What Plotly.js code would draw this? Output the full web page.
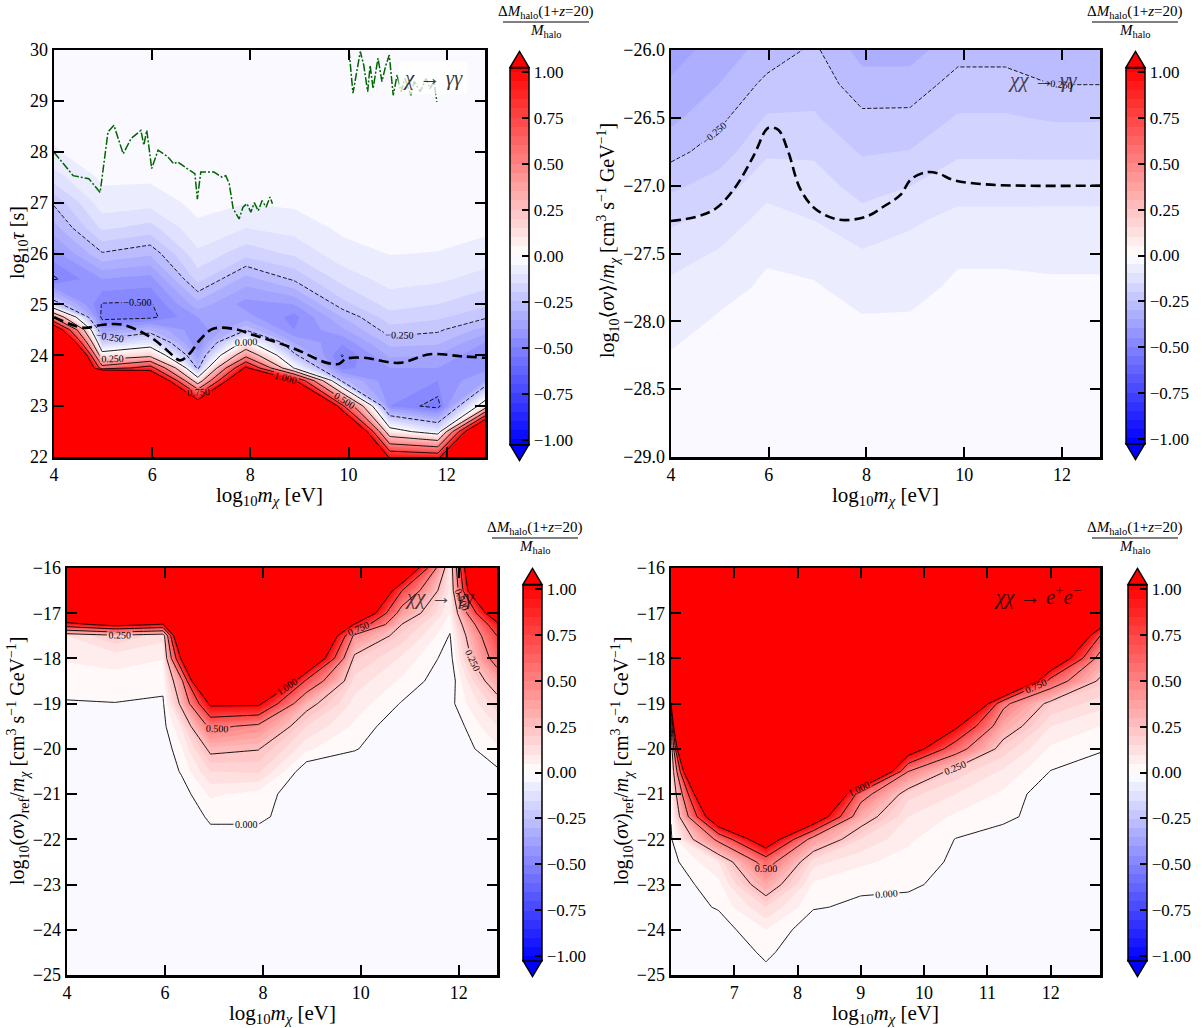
<!DOCTYPE html>
<html><head><meta charset="utf-8">
<script src="https://cdn.plot.ly/plotly-3.0.1.min.js"></script>
<style>body{margin:0;background:#fff}#chart{width:1202px;height:1028px}</style>
</head><body><div id="chart"></div>
<script>
// ---------------- DATA ----------------
// Panel 1: chi -> gamma gamma decay, x = log10 m [eV], y = log10 tau [s]
const p1_x = [4, 4.98, 5.96, 6.93, 7.91, 8.89, 9.87, 10.84, 11.82, 12.78];
const p1_y = [22, 22.5, 23, 23.5, 23.75, 24, 24.25, 24.5, 24.75, 25, 25.5, 26, 26.5, 27, 27.5, 28, 29, 30];
const p1_z = [
 [3, 3, 3, 3, 3, 3, 3, 0.95, 0.9, 3],
 [3, 3, 3, 3, 3, 3, 2.0, 0.08, -0.1, 1.8],
 [3, 3, 3, 1.3, 3, 3, 0.8, -0.45, -0.53, 0.1],
 [3, 3, 1.6, 0.1, 1.6, 1.05, -0.28, -0.44, -0.45, -0.35],
 [3, 0.6, 0.85, -0.28, 1.05, -0.01, -0.47, -0.4, -0.4, -0.42],
 [3, 0.08, 0.18, -0.38, 0.42, -0.23, -0.505, -0.34, -0.35, -0.45],
 [2.0, -0.2, -0.1, -0.45, 0.05, -0.35, -0.44, -0.28, -0.29, -0.4],
 [1.3, -0.38, -0.3, -0.44, -0.26, -0.45, -0.36, -0.22, -0.24, -0.32],
 [0.45, -0.53, -0.52, -0.4, -0.38, -0.47, -0.3, -0.17, -0.19, -0.24],
 [-0.2, -0.505, -0.51, -0.32, -0.42, -0.4, -0.22, -0.13, -0.15, -0.19],
 [-0.51, -0.4, -0.42, -0.18, -0.32, -0.24, -0.13, -0.08, -0.09, -0.12],
 [-0.42, -0.255, -0.29, -0.11, -0.18, -0.14, -0.07, -0.048, -0.052, -0.07],
 [-0.32, -0.14, -0.17, -0.06, -0.1, -0.08, -0.04, -0.03, -0.03, -0.04],
 [-0.24, -0.07, -0.08, -0.035, -0.048, -0.04, -0.025, -0.02, -0.02, -0.02],
 [-0.12, -0.04, -0.04, -0.02, -0.03, -0.02, -0.015, -0.01, -0.01, -0.01],
 [-0.055, -0.02, -0.02, -0.01, -0.015, -0.015, -0.01, -0.01, -0.01, -0.01],
 [-0.02, -0.01, -0.01, -0.01, -0.01, -0.01, -0.005, -0.005, -0.005, -0.005],
 [-0.01, -0.01, -0.01, -0.005, -0.005, -0.005, -0.005, -0.005, -0.005, -0.005]
];
const p1_bound_x = [4, 4.6, 5.0, 5.4, 5.96, 6.3, 6.57, 6.77, 6.97, 7.24, 7.65, 8.06, 8.87, 9.56, 9.8, 9.95, 10.32, 11.03, 11.66, 12.29, 12.78];
const p1_bound_y = [24.75, 24.54, 24.6, 24.6, 24.36, 24.1, 23.9, 24.04, 24.3, 24.52, 24.52, 24.4, 24.14, 23.85, 23.83, 23.93, 23.95, 23.85, 24.02, 23.98, 23.95];
const p1_limA_x = [4, 4.39, 4.71, 4.94, 5.1, 5.22, 5.41, 5.57, 5.77, 5.83, 5.89, 5.99, 6.12, 6.32, 6.44, 6.52, 6.71, 6.87, 6.92, 6.99, 7.26, 7.42, 7.5, 7.57, 7.65, 7.77, 7.85, 7.93, 8.01, 8.08, 8.16, 8.24, 8.32, 8.4, 8.45];
const p1_limA_y = [27.99, 27.53, 27.47, 27.2, 28.39, 28.52, 27.96, 28.26, 28.42, 28.13, 28.42, 27.67, 28.03, 27.9, 27.76, 27.8, 27.67, 27.57, 27.07, 27.6, 27.6, 27.5, 27.53, 27.37, 26.88, 26.68, 26.91, 26.98, 26.81, 27.0, 26.84, 27.04, 26.91, 27.11, 26.98];
const p1_limB_x = [10.01, 10.09, 10.24, 10.31, 10.39, 10.44, 10.5, 10.6, 10.68, 10.76, 10.83, 10.91, 10.99, 11.07, 11.15, 11.27, 11.34, 11.46, 11.58, 11.66, 11.74, 11.8];
const p1_limB_y = [30.0, 29.15, 29.97, 29.7, 29.18, 29.7, 29.24, 29.84, 29.38, 29.7, 29.9, 29.11, 29.51, 29.18, 29.44, 29.11, 29.38, 29.18, 29.44, 29.24, 29.38, 28.98];

// Panel 2: chi chi -> gamma gamma, y = log10 <sigma v>/m
const p2_x = [4, 4.98, 5.96, 6.93, 7.91, 8.89, 9.87, 10.84, 11.82, 12.78];
const p2_y = [-29, -28.5, -28.25, -28, -27.75, -27.5, -27.25, -27, -26.75, -26.5, -26.25, -26];
const p2_z = [
 [-0.01, -0.01, -0.01, -0.01, -0.01, -0.01, -0.01, -0.01, -0.01, -0.01],
 [-0.035, -0.027, -0.0237, -0.0244, -0.0279, -0.0279, -0.0237, -0.0237, -0.024, -0.024],
 [-0.047, -0.036, -0.0305, -0.0316, -0.0368, -0.0368, -0.0305, -0.0305, -0.031, -0.031],
 [-0.067, -0.045, -0.037, -0.0388, -0.0457, -0.0457, -0.037, -0.037, -0.038, -0.038],
 [-0.089, -0.063, -0.044, -0.046, -0.0655, -0.061, -0.044, -0.044, -0.045, -0.045],
 [-0.12, -0.095, -0.0545, -0.065, -0.095, -0.083, -0.055, -0.055, -0.058, -0.058],
 [-0.16, -0.132, -0.083, -0.101, -0.132, -0.108, -0.087, -0.087, -0.087, -0.087],
 [-0.211, -0.178, -0.117, -0.128, -0.169, -0.151, -0.121, -0.121, -0.12, -0.12],
 [-0.267, -0.225, -0.158, -0.158, -0.205, -0.198, -0.158, -0.158, -0.159, -0.159],
 [-0.3125, -0.264, -0.195, -0.195, -0.239, -0.2375, -0.195, -0.195, -0.2056, -0.2056],
 [-0.344, -0.3, -0.237, -0.219, -0.279, -0.279, -0.23, -0.23, -0.251, -0.251],
 [-0.37, -0.33, -0.28, -0.24, -0.32, -0.32, -0.27, -0.27, -0.275, -0.275]
];
const p2_bound_x = [4, 4.51, 4.91, 5.3, 5.69, 5.94, 6.02, 6.2, 6.4, 6.64, 6.95, 7.43, 7.98, 8.37, 8.69, 8.92, 9.24, 9.47, 9.79, 10.42, 11.2, 12.78];
const p2_bound_y = [-27.26, -27.23, -27.17, -27.02, -26.78, -26.59, -26.57, -26.59, -26.75, -27.02, -27.17, -27.25, -27.23, -27.15, -27.07, -26.95, -26.9, -26.91, -26.96, -26.99, -27.0, -27.0];

// Panel 3: chi chi -> gamma gamma, y = log10 (sigma v)_ref / m
const p3_x = [4, 4.98, 5.96, 6.33, 6.93, 7.91, 8.89, 9.87, 10.84, 11.82, 12.78];
const p3_y = [-25, -22, -21.75, -21.5, -21, -20.5, -20, -19.5, -19, -18.5, -18, -17.5, -17.25, -17, -16.5, -16];
const p3_z = [
 [-0.01, -0.01, -0.01, -0.01, -0.01, -0.01, -0.01, -0.01, -0.01, -0.01, -0.01],
 [-0.01, -0.01, -0.01, -0.01, -0.01, -0.01, -0.01, -0.01, -0.01, -0.01, -0.01],
 [-0.01, -0.01, -0.01, -0.02, -0.005, -0.005, -0.02, -0.01, -0.01, -0.01, -0.01],
 [-0.01, -0.01, -0.01, -0.04, 0.01, 0.01, -0.03, -0.01, -0.01, -0.01, -0.01],
 [-0.01, -0.01, -0.01, -0.03, 0.06, 0.03, -0.045, -0.01, -0.01, -0.01, -0.01],
 [-0.01, -0.01, -0.04, 0.005, 0.15, 0.16, -0.045, -0.01, -0.01, -0.01, -0.01],
 [-0.01, -0.01, -0.04, 0.04, 0.28, 0.255, 0.06, 0.001, -0.01, -0.045, 0.04],
 [-0.01, -0.01, -0.02, 0.1, 0.55, 0.45, 0.15, 0.04, -0.045, -0.045, 0.1],
 [-0.005, -0.002, -0.01, 0.28, 1.05, 1.05, 0.3, 0.08, -0.005, -0.02, 0.18],
 [0.025, 0.035, 0.02, 0.42, 2, 2, 0.7, 0.13, 0.04, -0.045, 0.35],
 [0.055, 0.065, 0.052, 1.02, 2, 2, 1.5, 0.21, 0.09, -0.03, 0.6],
 [0.1, 0.2, 0.12, 1.6, 2, 2, 2, 0.45, 0.18, -0.005, 0.75],
 [0.9, 1.1, 0.98, 2, 2, 2, 2, 0.98, 0.245, 0.02, 0.92],
 [1.5, 1.6, 1.6, 2, 2, 2, 2, 1.5, 0.38, 0.05, 1.3],
 [2, 2, 2, 2, 2, 2, 2, 2, 0.75, 0.08, 2.5],
 [2, 2, 2, 2, 2, 2, 2, 2, 1.5, 0.1, 3]
];

// Panel 4: chi chi -> e+ e-
const p4_x = [6.0, 6.75, 7.5, 8.25, 9.0, 9.75, 10.5, 11.25, 12.0, 12.78];
const p4_y = [-25, -24.75, -24.5, -24, -23.5, -23, -22.5, -22, -21.5, -21, -20.5, -20, -19.5, -19, -18.5, -18, -17.5, -17, -16];
const p4_z = [
 [-0.01, -0.01, -0.01, -0.01, -0.01, -0.01, -0.01, -0.01, -0.01, -0.01],
 [-0.01, -0.02, -0.002, -0.02, -0.01, -0.01, -0.01, -0.01, -0.01, -0.01],
 [-0.01, -0.04, 0.01, -0.04, -0.01, -0.01, -0.01, -0.01, -0.01, -0.01],
 [-0.02, -0.03, 0.05, -0.04, -0.01, -0.01, -0.01, -0.01, -0.01, -0.01],
 [-0.03, 0.005, 0.15, 0.005, -0.01, -0.01, -0.01, -0.01, -0.01, -0.01],
 [-0.03, 0.03, 0.35, 0.04, 0.01, 0.005, -0.01, -0.01, -0.01, -0.01],
 [-0.02, 0.1, 0.6, 0.12, 0.06, 0.03, -0.01, -0.01, -0.01, -0.01],
 [-0.01, 0.55, 1.25, 0.4, 0.15, 0.06, -0.002, -0.01, -0.01, -0.01],
 [0.005, 1.36, 2, 1.3, 0.33, 0.1, 0.04, 0.005, -0.01, -0.01],
 [0.035, 2, 2, 2, 0.6, 0.17, 0.1, 0.04, -0.04, -0.01],
 [0.06, 3.6, 2, 2, 2, 0.5, 0.18, 0.09, -0.002, -0.01],
 [0.1, 7, 2, 2, 2, 1.2, 0.6, 0.18, 0.04, 0.002],
 [0.18, 15, 2, 2, 2, 2, 1.05, 0.35, 0.1, 0.05],
 [1.02, 15, 2, 2, 2, 2, 2, 0.55, 0.2, 0.12],
 [2, 15, 2, 2, 2, 2, 2, 2, 0.65, 0.22],
 [2, 15, 2, 2, 2, 2, 2, 2, 1.4, 0.4],
 [2, 15, 2, 2, 2, 2, 2, 2, 2, 0.75],
 [2, 15, 2, 2, 2, 2, 2, 2, 2, 1.5],
 [2, 15, 2, 2, 2, 2, 2, 2, 2, 2]
];

// tick labels
const cbar_ticks = [-1, -0.75, -0.5, -0.25, 0, 0.25, 0.5, 0.75, 1];
const cbar_text = ['−1.00', '−0.75', '−0.50', '−0.25', '0.00', '0.25', '0.50', '0.75', '1.00'];
const p1_yticks = [22, 23, 24, 25, 26, 27, 28, 29, 30];
const p2_yticks = [-29, -28.5, -28, -27.5, -27, -26.5, -26];
const p2_ytext = ['−29.0', '−28.5', '−28.0', '−27.5', '−27.0', '−26.5', '−26.0'];
const p34_yticks = [-25, -24, -23, -22, -21, -20, -19, -18, -17, -16];
const p34_ytext = ['−25', '−24', '−23', '−22', '−21', '−20', '−19', '−18', '−17', '−16'];
const p123_xticks = [4, 6, 8, 10, 12];
const p4_xticks = [7, 8, 9, 10, 11, 12];

// ---------------- LAYOUT HELPERS ----------------
const W = 1202, H = 1028;
const X = v => v / W, Y = v => 1 - v / H;
const FONT = 'Liberation Serif, DejaVu Serif, serif';
const bwr = [[0, 'rgb(0,0,255)'], [0.5, 'rgb(255,255,255)'], [1, 'rgb(255,0,0)']];

const boxes = [
  {l: 54, r: 485, t: 50, b: 457, cbx: 510, cbt: 72, cbb: 440, fx: 546, fy: 12, yty: 243, ytx: 18},
  {l: 671, r: 1100, t: 50, b: 457, cbx: 1126, cbt: 72, cbb: 439, fx: 1135, fy: 12, yty: 241, ytx: 608},
  {l: 67, r: 497, t: 568, b: 975, cbx: 523, cbt: 589, cbb: 956, fx: 535, fy: 528, yty: 761, ytx: 18},
  {l: 671, r: 1100, t: 568, b: 975, cbx: 1128, cbt: 589, cbb: 956, fx: 1135, fy: 528, yty: 761, ytx: 622}
];
const CBW = 19;
const CBEXT = 1.025; // plotly colorbar spans half a band beyond +-1

function colorbar(bx) {
  return {
    x: X(bx.cbx), xanchor: 'left', y: Y((bx.cbt + bx.cbb) / 2), yanchor: 'middle',
    len: (bx.cbb - bx.cbt) * CBEXT, lenmode: 'pixels', thickness: CBW, thicknessmode: 'pixels',
    outlinewidth: 1.5, outlinecolor: '#000', ticks: 'inside', ticklen: 7, tickwidth: 2, tickcolor: '#000',
    tickmode: 'array', tickvals: cbar_ticks, ticktext: cbar_text, tickfont: {size: 17, family: FONT, color: '#000'},
    xpad: 0, ypad: 0
  };
}
function fillTrace(x, y, z, xa, ya, bx) {
  return {type: 'contour', x: x, y: y, z: z, xaxis: xa, yaxis: ya, colorscale: bwr,
    autocontour: false, contours: {start: -1, end: 1, size: 0.05, coloring: 'fill', showlines: false},
    line: {width: 0, smoothing: 0}, showscale: true, colorbar: colorbar(bx), hoverinfo: 'skip'};
}
function lineTrace(x, y, z, xa, ya, s, e, dash) {
  return {type: 'contour', x: x, y: y, z: z, xaxis: xa, yaxis: ya, autocontour: false,
    contours: {start: s, end: e, size: 0.25, coloring: 'none', showlabels: true,
      labelfont: {size: 10, family: FONT, color: '#000'}, labelformat: '.3f'},
    line: {color: '#000', width: 0.9, dash: dash, smoothing: 0}, showscale: false, hoverinfo: 'skip'};
}
function curve(x, y, xa, ya, line, shape) {
  return {type: 'scatter', mode: 'lines', x: x, y: y, xaxis: xa, yaxis: ya, line: Object.assign({shape: shape || 'linear'}, line), hoverinfo: 'skip', showlegend: false};
}

const thick = {color: '#000', width: 2.6, dash: '10px,5px', smoothing: 1};
const green = {color: '#006400', width: 1.5, dash: '8px,2px,2px,2px'};

const data = [
  fillTrace(p1_x, p1_y, p1_z, 'x', 'y', boxes[0]),
  lineTrace(p1_x, p1_y, p1_z, 'x', 'y', -0.5, -0.25, '4px,2px'),
  lineTrace(p1_x, p1_y, p1_z, 'x', 'y', 0, 1, 'solid'),
  curve(p1_bound_x, p1_bound_y, 'x', 'y', thick, 'spline'),
  curve(p1_limA_x, p1_limA_y, 'x', 'y', green),
  curve(p1_limB_x, p1_limB_y, 'x', 'y', green),

  fillTrace(p2_x, p2_y, p2_z, 'x2', 'y2', boxes[1]),
  lineTrace(p2_x, p2_y, p2_z, 'x2', 'y2', -0.25, -0.25, '4px,2px'),
  curve(p2_bound_x, p2_bound_y, 'x2', 'y2', thick, 'spline'),

  fillTrace(p3_x, p3_y, p3_z, 'x3', 'y3', boxes[2]),
  lineTrace(p3_x, p3_y, p3_z, 'x3', 'y3', 0, 1, 'solid'),

  fillTrace(p4_x, p4_y, p4_z, 'x4', 'y4', boxes[3]),
  lineTrace(p4_x, p4_y, p4_z, 'x4', 'y4', 0, 1, 'solid')
];

function axis(bx, horiz, range, extra) {
  const base = {
    domain: horiz ? [X(bx.l), X(bx.r)] : [Y(bx.b), Y(bx.t)],
    range: range, autorange: false, showgrid: false, zeroline: false,
    showline: true, linecolor: '#000', linewidth: 2.5, mirror: 'ticks',
    ticks: 'inside', ticklen: 10, tickwidth: 2, tickcolor: '#000', tickmode: 'array',
    tickfont: {size: 18, family: FONT, color: '#000'}, automargin: false
  };
  return Object.assign(base, extra);
}

const layout = {
  width: W, height: H, margin: {l: 0, r: 0, t: 0, b: 0},
  paper_bgcolor: '#fff', plot_bgcolor: '#fff', showlegend: false,
  font: {family: FONT, color: '#000'},
  xaxis: axis(boxes[0], true, [4, 12.78], {anchor: 'y', tickvals: p123_xticks}),
  yaxis: axis(boxes[0], false, [22, 30], {anchor: 'x', tickvals: p1_yticks}),
  xaxis2: axis(boxes[1], true, [4, 12.78], {anchor: 'y2', tickvals: p123_xticks}),
  yaxis2: axis(boxes[1], false, [-29, -26], {anchor: 'x2', tickvals: p2_yticks, ticktext: p2_ytext}),
  xaxis3: axis(boxes[2], true, [4, 12.78], {anchor: 'y3', tickvals: p123_xticks}),
  yaxis3: axis(boxes[2], false, [-25, -16], {anchor: 'x3', tickvals: p34_yticks, ticktext: p34_ytext}),
  xaxis4: axis(boxes[3], true, [6, 12.78], {anchor: 'y4', tickvals: p4_xticks}),
  yaxis4: axis(boxes[3], false, [-25, -16], {anchor: 'x4', tickvals: p34_yticks, ticktext: p34_ytext}),
  annotations: [],
  shapes: []
};

const xtitle = 'log<sub>10</sub><i>m</i><sub><i>χ</i></sub> [eV]';
const ytitles = [
  'log<sub>10</sub><i>τ</i> [s]',
  'log<sub>10</sub>⟨<i>σv</i>⟩/<i>m</i><sub><i>χ</i></sub> [cm<sup>3</sup> s<sup>−1</sup> GeV<sup>−1</sup>]',
  'log<sub>10</sub>(<i>σv</i>)<sub>ref</sub>/<i>m</i><sub><i>χ</i></sub> [cm<sup>3</sup> s<sup>−1</sup> GeV<sup>−1</sup>]',
  'log<sub>10</sub>(<i>σv</i>)<sub>ref</sub>/<i>m</i><sub><i>χ</i></sub> [cm<sup>3</sup> s<sup>−1</sup> GeV<sup>−1</sup>]'
];
boxes.forEach((bx, i) => {
  layout.annotations.push({xref: 'paper', yref: 'paper', x: X((bx.l + bx.r) / 2), y: Y(bx.b + 39), text: xtitle,
    showarrow: false, xanchor: 'center', yanchor: 'middle', font: {size: 21, family: FONT, color: '#000'}});
  layout.annotations.push({xref: 'paper', yref: 'paper', x: X(bx.ytx), y: Y(bx.yty), text: ytitles[i],
    showarrow: false, textangle: -90, xanchor: 'center', yanchor: 'middle', font: {size: 20, family: FONT, color: '#000'}});
  // colorbar fraction title
  layout.annotations.push({xref: 'paper', yref: 'paper', x: X(bx.fx), y: Y(bx.fy), text: 'Δ<i>M</i><sub>halo</sub>(1+<i>z</i>=20)',
    showarrow: false, xanchor: 'center', yanchor: 'middle', font: {size: 15, family: FONT, color: '#000'}});
  layout.annotations.push({xref: 'paper', yref: 'paper', x: X(bx.fx), y: Y(bx.fy + 19), text: '<i>M</i><sub>halo</sub>',
    showarrow: false, xanchor: 'center', yanchor: 'middle', font: {size: 15, family: FONT, color: '#000'}});
  layout.shapes.push({type: 'line', xref: 'paper', yref: 'paper', x0: X(bx.fx - 43), x1: X(bx.fx + 43), y0: Y(bx.fy + 10), y1: Y(bx.fy + 10), line: {color: '#000', width: 1}});
  // extend arrows
  const pad = (bx.cbb - bx.cbt) * (CBEXT - 1) / 2;
  const top = bx.cbt - pad, bot = bx.cbb + pad;
  const cx = bx.cbx + CBW / 2;
  layout.shapes.push({type: 'path', xref: 'paper', yref: 'paper',
    path: `M ${X(bx.cbx)} ${Y(top)} L ${X(cx)} ${Y(top - 16)} L ${X(bx.cbx + CBW)} ${Y(top)} Z`,
    fillcolor: 'rgb(255,0,0)', line: {color: '#000', width: 1.5}});
  layout.shapes.push({type: 'path', xref: 'paper', yref: 'paper',
    path: `M ${X(bx.cbx)} ${Y(bot)} L ${X(cx)} ${Y(bot + 16)} L ${X(bx.cbx + CBW)} ${Y(bot)} Z`,
    fillcolor: 'rgb(0,0,255)', line: {color: '#000', width: 1.5}});
});

// panel labels
layout.annotations.push({xref: 'x', yref: 'y', x: 11.72, y: 29.45, text: '<i>χ</i> → <i>γγ</i>', showarrow: false,
  font: {size: 21, family: FONT, color: 'rgba(0,0,0,0.8)'}, bgcolor: 'rgba(255,255,255,0.75)', borderpad: 4});
layout.annotations.push({xref: 'x2', yref: 'y2', x: 11.6, y: -26.22, text: '<i>χχ</i> → <i>γγ</i>', showarrow: false,
  font: {size: 21, family: FONT, color: 'rgba(0,0,0,0.7)'}});
layout.annotations.push({xref: 'x3', yref: 'y3', x: 11.6, y: -16.65, text: '<i>χχ</i> → <i>γγ</i>', showarrow: false,
  font: {size: 21, family: FONT, color: 'rgba(0,0,0,0.7)'}});
layout.annotations.push({xref: 'x4', yref: 'y4', x: 11.8, y: -16.61, text: '<i>χχ</i> → <i>e</i><sup>+</sup><i>e</i><sup>−</sup>', showarrow: false,
  font: {size: 21, family: FONT, color: 'rgba(0,0,0,0.75)'}});

Plotly.newPlot('chart', data, layout, {staticPlot: true, displayModeBar: false});
</script></body></html>
